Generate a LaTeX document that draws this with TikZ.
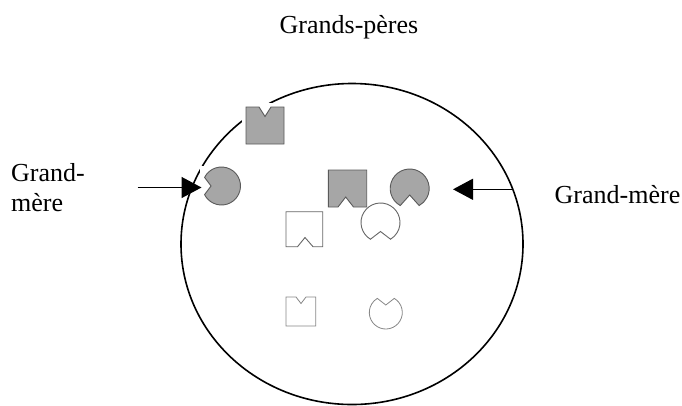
\documentclass[tikz,border=0pt]{standalone}
\usepackage{fontspec}
\setmainfont{Liberation Serif}
\usetikzlibrary{arrows.meta}
\definecolor{shapefill}{HTML}{A6A6A6}
\definecolor{shapeline}{HTML}{5A5A5A}
\definecolor{openline}{HTML}{666666}
\definecolor{faintline}{HTML}{878787}
% #1 style, #2 cx, #3 cy, #4 radius, #5 mouth direction, #6 half-angle, #7 apex distance
\newcommand\pacmanpath[7]{%
  \path[#1] (#2,#3) ++(#5+#6:#4) arc[start angle=#5+#6, end angle=#5-#6+360, radius=#4]
    -- ([shift={(#5:#7)}]#2,#3) -- cycle;}
\begin{document}
\begin{tikzpicture}[x=1pt,y=-1pt,
  txt/.style={anchor=base west, inner sep=0pt, font=\fontsize{26}{30}\selectfont},
  filledshape/.style={fill=shapefill, draw=shapeline, line width=0.9pt, line join=miter},
  openshape/.style={fill=white, draw=openline, line width=0.9pt},
  faintshape/.style={fill=white, draw=faintline, line width=0.8pt},
  ring/.style={draw=black, line width=1.6pt},
  pointer/.style={draw=black, line width=1.5pt, -{Triangle[length=20pt,width=21pt]}},
  mask/.style={fill=white, draw=none}]
\useasboundingbox (0,0) rectangle (682,405);
% outer ellipse
\draw[ring] (352,244) ellipse [x radius=171, y radius=160.5];
\fill[mask] (242,103) rectangle (288,148);
\fill[mask] (199.5,165.5) rectangle (244,208);
% grey squares
\path[filledshape] (246,107) -- (259,107) -- (265,116.5) -- (271,107) -- (284,107)
  -- (284,144) -- (246,144) -- cycle;
\path[filledshape] (328.3,170) -- (366.7,170) -- (366.7,207) -- (353.5,207) -- (345.7,197)
  -- (338,207) -- (328.3,207) -- cycle;
% grey pacmen
\pacmanpath{filledshape}{221.5}{186}{19}{180}{27}{10.5}
\pacmanpath{filledshape}{409.7}{188.5}{19.5}{90}{29}{6.5}
% open shapes
\path[openshape] (286,211.7) -- (322.7,211.7) -- (322.7,246.7) -- (313,246.7) -- (305,237.5)
  -- (297.5,246.7) -- (286,246.7) -- cycle;
\pacmanpath{openshape}{380.5}{222.5}{19.5}{90}{31}{9}
\path[faintshape] (286,297) -- (296,297) -- (301,303.5) -- (306,297) -- (315.7,297)
  -- (315.7,326) -- (286,326) -- cycle;
\pacmanpath{faintshape}{385.8}{312.5}{16.5}{270}{31}{7.5}
% arrows
\coordinate (la) at (137.7,187.5);
\coordinate (lt) at (201.5,187.5);
\coordinate (ra) at (512.8,189.3);
\coordinate (rt) at (453,189.3);
\draw[pointer] (la) -- (lt);
\draw[pointer] (ra) -- (rt);
% texts
\node[txt] (gp) at (279.5,33.3) {Grands-pères};
\node[txt] (gm1) at (11,181.7) {Grand-};
\node[txt] (gm2) at (11,211.7) {mère};
\node[txt] (gm3) at (554.5,203.3) {Grand-mère};
\end{tikzpicture}
\end{document}
